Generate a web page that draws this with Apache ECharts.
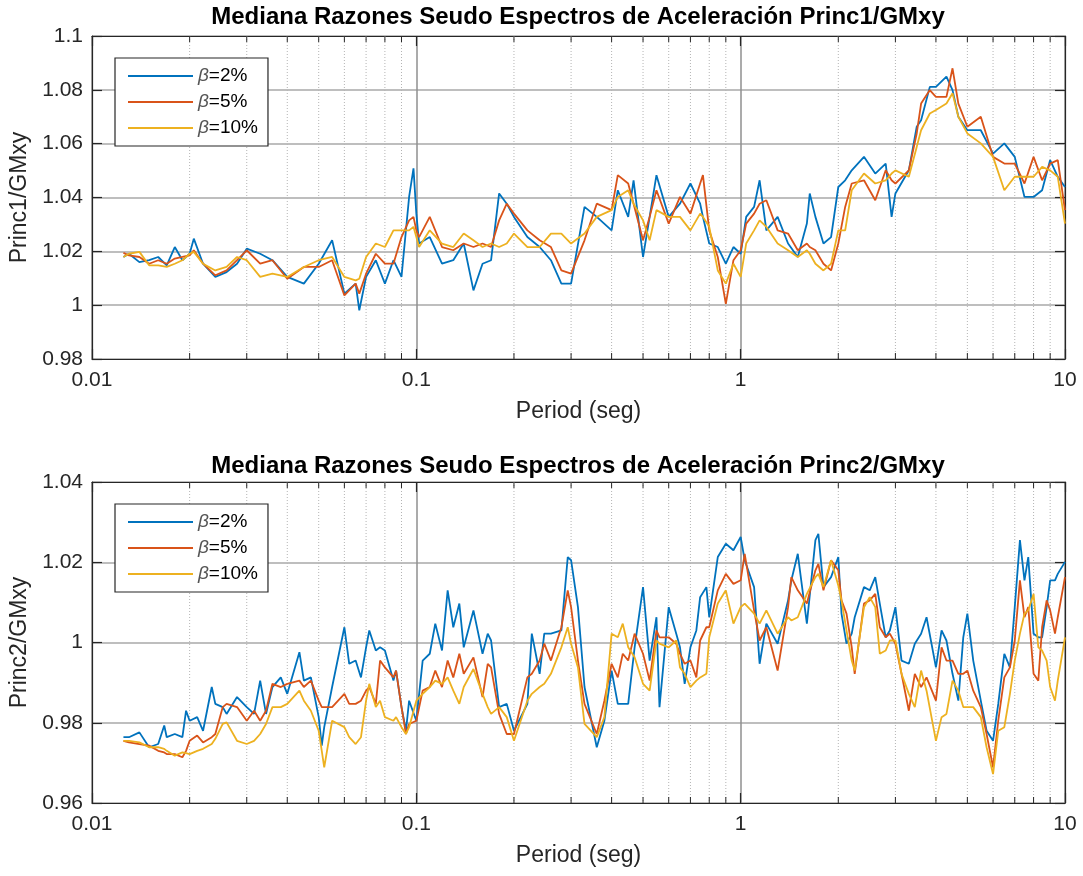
<!DOCTYPE html>
<html>
<head>
<meta charset="utf-8">
<title>Mediana Razones Seudo Espectros de Aceleración</title>
<script src="https://cdn.jsdelivr.net/npm/echarts@6/dist/echarts.min.js"></script>
<style>
  html, body { margin: 0; padding: 0; background: #fff; }
  #chart { width: 1083px; height: 876px; }
</style>
</head>
<body>
<div id="chart"></div>
<script>
// Period axis (log scale) and the dotted minor grid positions
const periodTicks = [0.01, 0.1, 1, 10];
const minorPeriods = [0.02, 0.03, 0.04, 0.05, 0.06, 0.07, 0.08, 0.09,
  0.2, 0.3, 0.4, 0.5, 0.6, 0.7, 0.8, 0.9, 2, 3, 4, 5, 6, 7, 8, 9];

const dampingNames = ['β=2%', 'β=5%', 'β=10%'];

// ---- Princ1 / GMxy ----
const periods1 = [0.0125,0.013,0.014,0.015,0.016,0.017,0.018,0.019,0.02,0.0206,0.022,0.024,0.026,0.028,0.03,0.033,0.036,0.04,0.045,0.05,0.055,0.06,0.065,0.0667,0.07,0.075,0.08,0.085,0.09,0.095,0.098,0.1,0.102,0.11,0.12,0.13,0.14,0.15,0.16,0.17,0.18,0.19,0.2,0.22,0.24,0.26,0.28,0.3,0.33,0.36,0.4,0.418,0.45,0.4675,0.5,0.524,0.55,0.6,0.65,0.7,0.75,0.765,0.8,0.85,0.9,0.95,1.0,1.04,1.1,1.144,1.2,1.3,1.4,1.5,1.6,1.633,1.7,1.8,1.9,2.0,2.1,2.2,2.4,2.6,2.8,2.92,3.0,3.3,3.49,3.6,3.83,4.0,4.31,4.5,4.69,5.0,5.5,6.0,6.5,7.0,7.5,8.0,8.5,9.0,9.5,10];

const princ1Beta2 = [1.0179,1.0191,1.0160,1.0167,1.0179,1.0148,1.0216,1.0167,1.0191,1.0247,1.0154,1.0105,1.0123,1.0154,1.0210,1.0191,1.0167,1.0105,1.0080,1.0154,1.0241,1.0043,1.0080,0.9981,1.0105,1.0167,1.0080,1.0167,1.0105,1.0402,1.0508,1.0340,1.0229,1.0253,1.0154,1.0167,1.0229,1.0055,1.0154,1.0167,1.0415,1.0377,1.0328,1.0253,1.0216,1.0167,1.0080,1.0080,1.0365,1.0328,1.0278,1.0427,1.0328,1.0464,1.0179,1.0328,1.0483,1.0328,1.0377,1.0452,1.0377,1.0328,1.0229,1.0216,1.0154,1.0216,1.0191,1.0328,1.0365,1.0464,1.0278,1.0328,1.0229,1.0179,1.0303,1.0415,1.0328,1.0229,1.0253,1.0439,1.0464,1.0501,1.0551,1.0489,1.0526,1.0328,1.0415,1.0501,1.0663,1.0687,1.0811,1.0811,1.0849,1.0799,1.0700,1.0650,1.0650,1.0563,1.0601,1.0551,1.0402,1.0402,1.0427,1.0539,1.0477,1.0439];

const princ1Beta5 = [1.0194,1.0185,1.0179,1.0154,1.0167,1.0154,1.0173,1.0179,1.0185,1.0204,1.0154,1.0111,1.0129,1.0167,1.0204,1.0154,1.0167,1.0098,1.0142,1.0142,1.0167,1.0036,1.0080,1.0043,1.0117,1.0191,1.0154,1.0154,1.0253,1.0315,1.0328,1.0278,1.0253,1.0328,1.0216,1.0204,1.0229,1.0216,1.0229,1.0216,1.0315,1.0377,1.0340,1.0278,1.0241,1.0216,1.0129,1.0117,1.0241,1.0377,1.0353,1.0483,1.0452,1.0377,1.0241,1.0328,1.0427,1.0303,1.0402,1.0340,1.0452,1.0483,1.0278,1.0179,1.0005,1.0167,1.0204,1.0303,1.0340,1.0377,1.0390,1.0278,1.0266,1.0204,1.0229,1.0216,1.0204,1.0154,1.0129,1.0229,1.0365,1.0452,1.0464,1.0390,1.0501,1.0464,1.0452,1.0501,1.0638,1.0749,1.0799,1.0774,1.0774,1.0880,1.0749,1.0663,1.0700,1.0551,1.0526,1.0526,1.0452,1.0551,1.0464,1.0526,1.0539,1.0353];

const princ1Beta10 = [1.0179,1.0191,1.0198,1.0148,1.0148,1.0142,1.0154,1.0167,1.0191,1.0198,1.0154,1.0129,1.0142,1.0179,1.0167,1.0105,1.0117,1.0105,1.0142,1.0167,1.0179,1.0105,1.0092,1.0098,1.0179,1.0229,1.0216,1.0278,1.0278,1.0278,1.0291,1.0253,1.0216,1.0278,1.0229,1.0216,1.0266,1.0241,1.0216,1.0229,1.0216,1.0229,1.0266,1.0216,1.0216,1.0266,1.0266,1.0229,1.0266,1.0328,1.0353,1.0402,1.0427,1.0377,1.0315,1.0241,1.0353,1.0328,1.0328,1.0278,1.0340,1.0328,1.0291,1.0129,1.0080,1.0154,1.0105,1.0229,1.0278,1.0315,1.0291,1.0229,1.0204,1.0179,1.0204,1.0191,1.0154,1.0129,1.0154,1.0278,1.0278,1.0427,1.0489,1.0452,1.0464,1.0489,1.0501,1.0477,1.0588,1.0650,1.0712,1.0725,1.0749,1.0787,1.0700,1.0638,1.0601,1.0551,1.0427,1.0477,1.0477,1.0477,1.0514,1.0501,1.0477,1.0303];

// ---- Princ2 / GMxy ----
const periods2 = [0.0125,0.013,0.014,0.015,0.016,0.0167,0.017,0.018,0.019,0.0195,0.02,0.0211,0.022,0.0234,0.024,0.0253,0.026,0.028,0.03,0.0316,0.033,0.0344,0.036,0.0382,0.04,0.0436,0.045,0.0473,0.05,0.0511,0.052,0.055,0.06,0.0621,0.065,0.0675,0.07,0.0716,0.075,0.0773,0.08,0.085,0.0866,0.09,0.0929,0.095,0.1,0.1046,0.11,0.1144,0.12,0.1249,0.13,0.1357,0.14,0.15,0.16,0.166,0.17,0.18,0.19,0.2,0.22,0.227,0.24,0.248,0.26,0.28,0.293,0.3,0.315,0.33,0.36,0.38,0.4,0.418,0.433,0.45,0.471,0.5,0.524,0.55,0.562,0.6,0.633,0.65,0.672,0.7,0.73,0.75,0.784,0.8,0.85,0.9,0.95,1.0,1.029,1.1,1.144,1.2,1.3,1.4,1.433,1.5,1.6,1.7,1.736,1.8,1.9,2.0,2.046,2.12,2.2,2.247,2.4,2.5,2.6,2.685,2.8,2.884,3.0,3.133,3.3,3.443,3.6,3.742,4.0,4.163,4.31,4.5,4.69,4.857,5.0,5.213,5.5,5.731,6.0,6.226,6.5,6.764,7.0,7.262,7.5,7.704,8.0,8.274,8.5,8.779,9.0,9.314,9.5,10];

const princ2Beta2 = [0.9764,0.9764,0.9776,0.9739,0.9747,0.9793,0.9764,0.9772,0.9764,0.9830,0.9805,0.9814,0.9780,0.9889,0.9847,0.9839,0.9822,0.9864,0.9839,0.9822,0.9905,0.9822,0.9889,0.9913,0.9872,0.9976,0.9905,0.9913,0.9814,0.9743,0.9789,0.9889,1.0038,0.9947,0.9955,0.9913,0.9988,1.0030,0.9980,0.9988,0.9980,0.9905,0.9930,0.9839,0.9780,0.9855,0.9805,0.9955,0.9972,1.0047,0.9980,1.0130,1.0038,1.0097,0.9988,1.0080,0.9972,1.0022,1.0005,0.9839,0.9847,0.9780,0.9847,1.0022,0.9922,1.0022,1.0022,1.0030,1.0213,1.0205,1.0088,0.9889,0.9739,0.9805,0.9930,0.9847,0.9847,0.9847,0.9988,1.0138,0.9955,1.0063,0.9839,1.0088,1.0022,0.9988,0.9897,0.9988,1.0030,1.0113,1.0138,1.0063,1.0213,1.0246,1.0230,1.0263,1.0205,1.0138,0.9947,1.0047,0.9997,1.0105,1.0155,1.0221,1.0047,1.0255,1.0271,1.0138,1.0163,1.0213,1.0072,0.9997,1.0022,1.0063,1.0138,1.0130,1.0163,1.0097,1.0013,1.0030,1.0088,0.9955,0.9947,0.9997,1.0022,1.0063,0.9938,1.0030,1.0005,0.9922,0.9855,1.0013,1.0072,0.9955,0.9855,0.9780,0.9755,0.9847,0.9972,0.9938,1.0088,1.0255,1.0155,1.0213,1.0022,1.0013,1.0013,1.0088,1.0155,1.0155,1.0171,1.0201];

const princ2Beta5 = [0.9755,0.9751,0.9747,0.9743,0.9730,0.9726,0.9722,0.9722,0.9714,0.9730,0.9755,0.9768,0.9751,0.9764,0.9772,0.9839,0.9847,0.9839,0.9805,0.9830,0.9805,0.9830,0.9897,0.9889,0.9897,0.9905,0.9889,0.9905,0.9855,0.9839,0.9839,0.9839,0.9872,0.9847,0.9847,0.9855,0.9880,0.9889,0.9847,0.9955,0.9938,0.9913,0.9930,0.9839,0.9772,0.9797,0.9805,0.9880,0.9889,0.9930,0.9889,0.9955,0.9913,0.9972,0.9922,0.9963,0.9864,0.9947,0.9938,0.9822,0.9772,0.9772,0.9913,0.9922,0.9955,0.9997,0.9955,1.0038,1.0130,1.0088,0.9955,0.9847,0.9772,0.9855,0.9947,0.9913,0.9972,0.9955,1.0022,0.9972,0.9905,1.0030,1.0013,1.0013,0.9997,0.9972,0.9947,0.9955,0.9913,1.0005,1.0038,1.0038,1.0130,1.0171,1.0146,1.0155,1.0221,1.0080,1.0005,1.0038,0.9930,1.0088,1.0163,1.0130,1.0097,1.0180,1.0196,1.0130,1.0205,1.0180,1.0105,1.0072,0.9988,0.9922,1.0097,1.0105,1.0121,1.0038,1.0013,1.0022,0.9997,0.9922,0.9830,0.9922,0.9889,0.9913,0.9855,0.9988,0.9955,0.9955,0.9922,0.9922,0.9930,0.9880,0.9839,0.9772,0.9689,0.9805,0.9913,0.9938,1.0005,1.0155,1.0063,1.0088,0.9922,0.9905,1.0038,1.0105,1.0080,1.0022,1.0063,1.0163];

const princ2Beta10 = [0.9755,0.9755,0.9751,0.9739,0.9739,0.9735,0.9730,0.9718,0.9726,0.9724,0.9722,0.9730,0.9735,0.9747,0.9760,0.9797,0.9801,0.9755,0.9747,0.9755,0.9772,0.9797,0.9839,0.9839,0.9847,0.9880,0.9855,0.9830,0.9780,0.9730,0.9689,0.9805,0.9789,0.9764,0.9747,0.9764,0.9855,0.9897,0.9839,0.9855,0.9814,0.9805,0.9814,0.9789,0.9772,0.9789,0.9855,0.9872,0.9889,0.9905,0.9897,0.9913,0.9880,0.9847,0.9889,0.9934,0.9872,0.9839,0.9822,0.9839,0.9814,0.9755,0.9855,0.9872,0.9889,0.9897,0.9922,0.9988,1.0038,0.9997,0.9938,0.9797,0.9764,0.9814,1.0022,1.0013,1.0047,0.9988,0.9963,0.9897,0.9880,1.0005,0.9997,0.9988,1.0005,0.9938,0.9922,0.9889,0.9905,0.9913,0.9922,1.0013,1.0097,1.0130,1.0047,1.0088,1.0097,1.0072,1.0047,1.0080,1.0022,1.0063,1.0055,1.0063,1.0121,1.0163,1.0171,1.0138,1.0205,1.0142,1.0105,1.0030,0.9955,0.9930,1.0088,1.0113,1.0088,0.9972,0.9980,1.0005,1.0005,0.9922,0.9872,0.9839,0.9930,0.9880,0.9755,0.9814,0.9822,0.9905,0.9880,0.9839,0.9839,0.9839,0.9814,0.9739,0.9672,0.9780,0.9789,0.9872,0.9955,1.0022,1.0072,1.0080,1.0121,0.9988,0.9980,0.9955,0.9889,0.9855,0.9905,1.0013];

const lineColors = ['#0072BD', '#D95319', '#EDB120'];
const FONT = '"Liberation Sans", Arial, Helvetica, sans-serif';
const INK = '#262626';

function pairs(xs, ys) {
  const n = Math.min(xs.length, ys.length);
  const out = [];
  for (let i = 0; i < n; i++) out.push([xs[i], ys[i]]);
  return out;
}

// dotted minor grid plus short inward minor ticks on top and bottom edges
function renderMinor(params, api) {
  const cs = params.coordSys;
  const x = api.coord([api.value(0), api.value(1)])[0];
  const top = cs.y, bot = cs.y + cs.height;
  return {
    type: 'group',
    children: [
      { type: 'line', shape: { x1: x, y1: top, x2: x, y2: bot },
        style: { stroke: '#b4b4b4', lineWidth: 1, lineDash: [1, 2] } },
      { type: 'line', shape: { x1: x, y1: bot, x2: x, y2: bot - 6 },
        style: { stroke: INK, lineWidth: 1 } },
      { type: 'line', shape: { x1: x, y1: top, x2: x, y2: top + 6 },
        style: { stroke: INK, lineWidth: 1 } }
    ]
  };
}

const grids = [
  { left: 92, right: 18, top: 36, height: 323 },
  { left: 92, right: 18, top: 482, height: 321 }
];

function xAxes(gi) {
  const base = {
    type: 'log', logBase: 10, min: 0.01, max: 10, gridIndex: gi,
    axisLine: { show: true, lineStyle: { color: INK, width: 1.2 } },
    axisTick: { show: true, inside: true, length: 10, lineStyle: { color: INK, width: 1.2 } },
    minorTick: { show: false }
  };
  return [
    Object.assign({}, base, {
      position: 'bottom',
      name: 'Period (seg)', nameLocation: 'middle', nameGap: 41,
      nameTextStyle: { fontFamily: FONT, fontSize: 23, color: INK },
      axisLabel: { fontFamily: FONT, fontSize: 21, color: INK, margin: 11 },
      splitLine: { show: true, lineStyle: { color: '#8f8f8f', width: 1.5 } }
    }),
    Object.assign({}, base, {
      position: 'top',
      axisLabel: { show: false },
      splitLine: { show: false }
    })
  ];
}

function yAxes(gi, min, max, name) {
  const base = {
    type: 'value', min: min, max: max, interval: 0.02, gridIndex: gi,
    axisLine: { show: true, lineStyle: { color: INK, width: 1.2 } },
    axisTick: { show: true, inside: true, length: 10, lineStyle: { color: INK, width: 1.2 } }
  };
  return [
    Object.assign({}, base, {
      position: 'left',
      name: name, nameLocation: 'middle', nameGap: 60,
      nameTextStyle: { fontFamily: FONT, fontSize: 23, color: INK },
      axisLabel: {
        fontFamily: FONT, fontSize: 21, color: INK, margin: 9,
        formatter: v => String(Math.round(v * 100) / 100)
      },
      splitLine: { show: true, lineStyle: { color: '#a8a8a8', width: 1.5 } }
    }),
    Object.assign({}, base, {
      position: 'right',
      axisLabel: { show: false },
      splitLine: { show: false }
    })
  ];
}

function legendFor(top) {
  return {
    data: dampingNames,
    orient: 'vertical',
    left: 115, top: top,
    icon: 'rect', itemWidth: 65, itemHeight: 2, itemGap: 4,
    padding: [7, 10, 7, 13],
    borderColor: INK, borderWidth: 1.2, backgroundColor: '#fff',
    formatter: name => '{b|β}' + name.slice(1),
    textStyle: {
      fontFamily: FONT, fontSize: 19, color: '#000', lineHeight: 22,
      rich: { b: { fontFamily: FONT, fontSize: 19, fontStyle: 'italic', color: '#555', lineHeight: 22 } }
    },
    selectedMode: false
  };
}

function plotSeries(gi, periods, sets) {
  const out = [{
    type: 'custom', xAxisIndex: gi * 2, yAxisIndex: gi * 2, z: 1, silent: true,
    renderItem: renderMinor,
    data: minorPeriods.map(p => [p, 1.0])
  }];
  sets.forEach((vals, k) => {
    out.push({
      name: dampingNames[k], type: 'line',
      xAxisIndex: gi * 2, yAxisIndex: gi * 2,
      data: pairs(periods, vals),
      showSymbol: false, symbol: 'none', z: 3 + k,
      lineStyle: { color: lineColors[k], width: 1.8 },
      itemStyle: { color: lineColors[k] },
      emphasis: { disabled: true }
    });
  });
  return out;
}

const chart = echarts.init(document.getElementById('chart'), null, { renderer: 'canvas' });
chart.setOption({
  animation: false,
  backgroundColor: '#fff',
  color: lineColors,
  title: [
    { text: 'Mediana Razones Seudo Espectros de Aceleración Princ1/GMxy', left: 578, top: 5, textAlign: 'center', padding: 0,
      textStyle: { fontFamily: FONT, fontSize: 24, fontWeight: 'bold', color: '#000' } },
    { text: 'Mediana Razones Seudo Espectros de Aceleración Princ2/GMxy', left: 578, top: 454, textAlign: 'center', padding: 0,
      textStyle: { fontFamily: FONT, fontSize: 24, fontWeight: 'bold', color: '#000' } }
  ],
  grid: grids,
  xAxis: xAxes(0).concat(xAxes(1)),
  yAxis: yAxes(0, 0.98, 1.1, 'Princ1/GMxy').concat(yAxes(1, 0.96, 1.04, 'Princ2/GMxy')),
  legend: [legendFor(58), legendFor(504)],
  series: plotSeries(0, periods1, [princ1Beta2, princ1Beta5, princ1Beta10])
    .concat(plotSeries(1, periods2, [princ2Beta2, princ2Beta5, princ2Beta10]))
});
</script>
</body>
</html>
